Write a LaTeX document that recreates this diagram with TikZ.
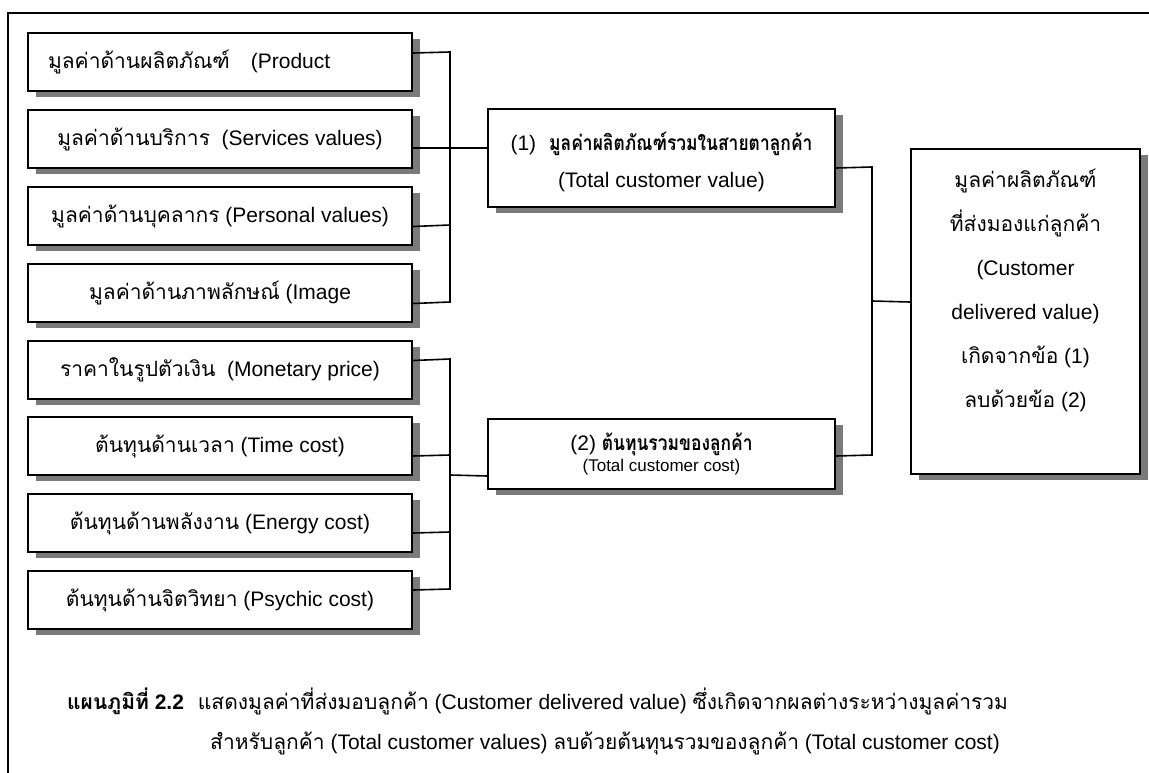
\documentclass[tikz,border=0pt]{standalone}
\usepackage{fontspec}
\setmainfont{Liberation Sans}
\newfontfamily\thai[Script=Thai]{Loma}
\newfontfamily\thaic[Script=Thai,FakeStretch=0.83]{Loma}
\usetikzlibrary{shadows}
\begin{document}
\begin{tikzpicture}[x=1pt,y=-1pt,
  box/.style={draw=black,line width=2pt,fill=white,inner sep=0pt,anchor=north west,
    drop shadow={shadow xshift=8pt,shadow yshift=-6pt,fill=black!52,opacity=1}},
  lbox/.style={box,minimum width=384pt,minimum height=58pt,font=\fontsize{21}{25}\selectfont},
  conn/.style={line width=1.6pt},
  txt/.style={inner sep=0pt}]
\useasboundingbox (0,0) rectangle (1149,773);
% frame
\draw[line width=2.2pt] (8,773) -- (8,13) -- (1149,13);
% left boxes
\node[lbox,text width=344pt,align=left] (b1) at (27,32) {{\thai มูลค่าด้านผลิตภัณฑ์}\ \ \ (Product};
\node[lbox] (b2) at (27,109) {{\thai มูลค่าด้านบริการ}\ \ (Services values)};
\node[lbox] (b3) at (27,186) {{\thai มูลค่าด้านบุคลากร} (Personal values)};
\node[lbox] (b4) at (27,263) {{\thai มูลค่าด้านภาพลักษณ์} (Image};
\node[lbox] (b5) at (27,340) {{\thai ราคาในรูปตัวเงิน}\ \ (Monetary price)};
\node[lbox] (b6) at (27,416) {{\thai ต้นทุนด้านเวลา} (Time cost)};
\node[lbox] (b7) at (27,493) {{\thai ต้นทุนด้านพลังงาน} (Energy cost)};
\node[lbox] (b8) at (27,570) {{\thai ต้นทุนด้านจิตวิทยา} (Psychic cost)};
% middle boxes
\node[box,minimum width=347pt,minimum height=98pt] (v1) at (487,108) {};
\node[txt,align=center,font=\fontsize{21}{37}\selectfont] (v1t) at ([yshift=-4pt]v1.center)
  {(1)\hspace{13pt}{\thaic\bfseries มูลค่าผลิตภัณฑ์รวมในสายตาลูกค้า}\\(Total customer value)};
\node[box,minimum width=347pt,minimum height=70pt,align=center] (v2) at (487,418)
  {\fontsize{21}{25}\selectfont(2) {\thaic\bfseries ต้นทุนรวมของลูกค้า}\\[2pt]\fontsize{17}{20}\selectfont(Total customer cost)};
% right box
\node[box,minimum width=229pt,minimum height=325pt] (r) at (910,148) {};
\node[txt,anchor=north,align=center,font=\fontsize{21}{44}\selectfont] (rt) at ([yshift=-21pt]r.north)
  {{\thai มูลค่าผลิตภัณฑ์}\\{\thai ที่ส่งมองแก่ลูกค้า}\\(Customer\\delivered value)\\{\thai เกิดจากข้อ} (1)\\{\thai ลบด้วยข้อ} (2)};
% connectors upper
\coordinate (ut) at (450,52);
\coordinate (um) at (450,225);
\coordinate (ub) at (450,302);
\draw[conn] ([yshift=9pt]b1.east) -- (ut) -- (ub) -- ([yshift=-10.5pt]b4.east);
\draw[conn] ([yshift=-10.5pt]b3.east) -- (um);
\draw[conn] ([yshift=-9pt]b2.east) -- ([yshift=10pt]v1.west);
% connectors lower
\coordinate (lt) at (450,359);
\coordinate (l6) at (450,455);
\coordinate (l7) at (450,532);
\coordinate (lm) at (450,475);
\coordinate (lb) at (450,589);
\draw[conn] ([yshift=9.5pt]b5.east) -- (lt) -- (lb) -- ([yshift=10pt]b8.east);
\draw[conn] ([yshift=-10pt]b6.east) -- (l6);
\draw[conn] ([yshift=-10pt]b7.east) -- (l7);
\draw[conn] (lm) -- ([yshift=-22pt]v2.west);
% right connector
\coordinate (rt1) at (872,167);
\coordinate (rb1) at (872,455);
\coordinate (rm1) at (872,301);
\draw[conn] ([yshift=-10pt]v1.east) -- (rt1) -- (rb1) -- ([yshift=-2pt]v2.east);
\draw[conn] (rm1) -- ([yshift=9.5pt]r.west);
% caption
\node[txt,anchor=west,font=\fontsize{21}{25}\selectfont] (c1) at (67,701)
  {{\thai\bfseries แผนภูมิที่} \textbf{2.2}\hspace{14pt}{\thai แสดงมูลค่าที่ส่งมอบลูกค้า} (Customer delivered value) {\thai ซึ่งเกิดจากผลต่างระหว่างมูลค่ารวม}};
\node[txt,anchor=west,font=\fontsize{21}{25}\selectfont] (c2) at (210,743)
  {{\thai สำหรับลูกค้า} (Total customer values) {\thai ลบด้วยต้นทุนรวมของลูกค้า} (Total customer cost)};
\end{tikzpicture}
\end{document}
